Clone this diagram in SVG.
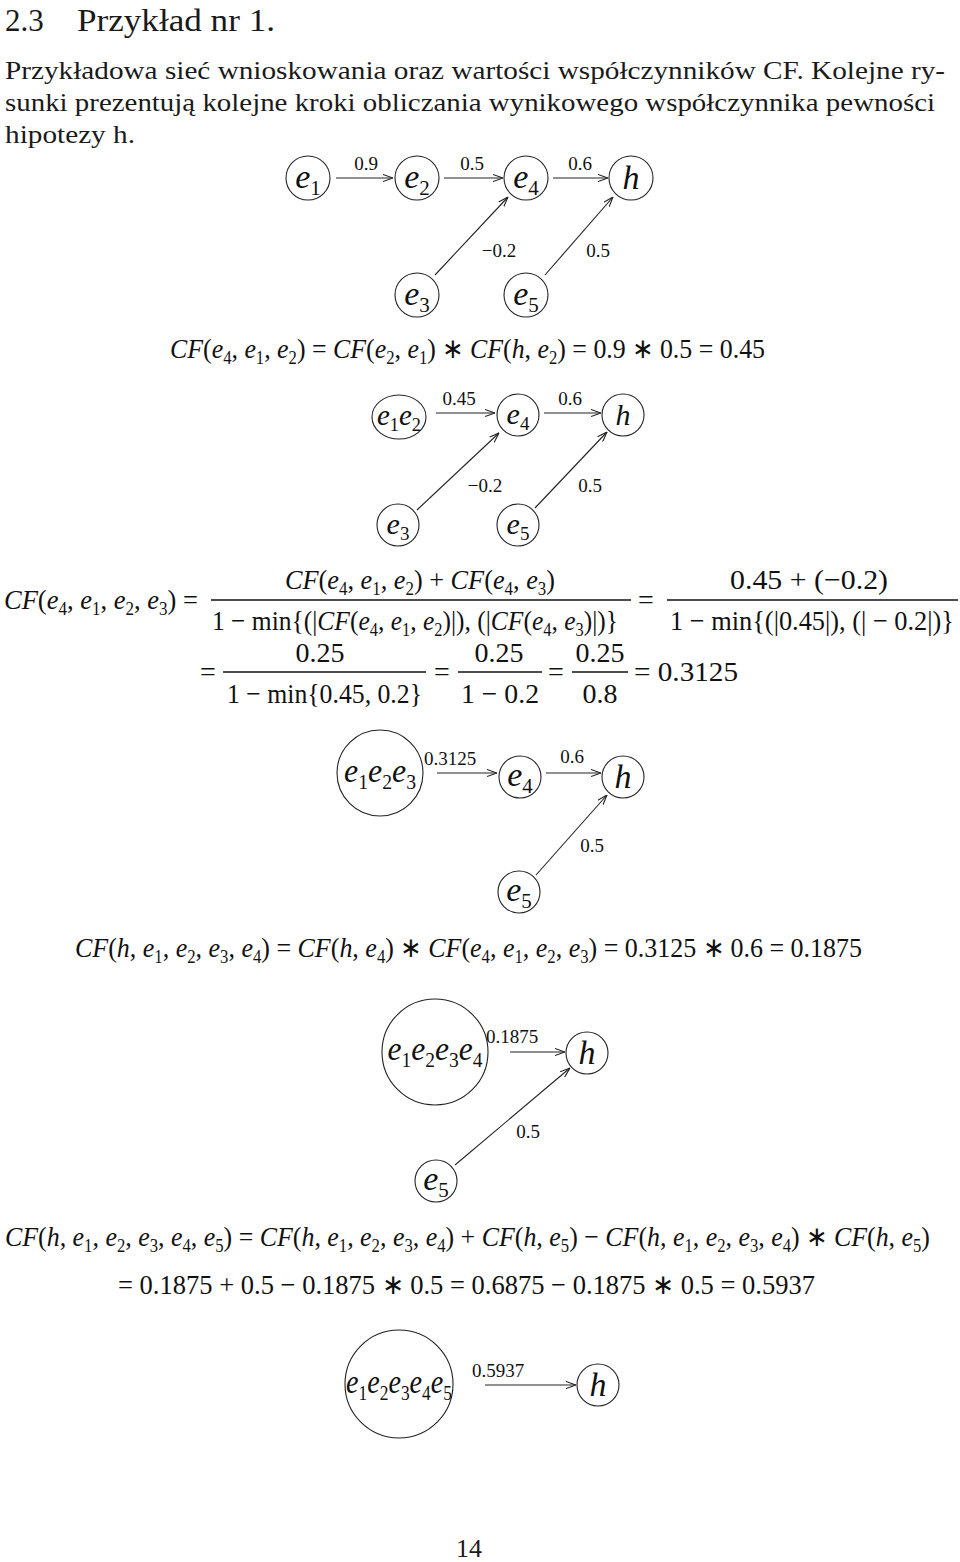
<svg xmlns="http://www.w3.org/2000/svg" width="960" height="1562" viewBox="0 0 960 1562">
<style>
.t{font-family:"Liberation Serif",serif;fill:#1a1a1a}
.hd{font-size:31px}
.p{font-size:26px}
.f{font-family:"Liberation Serif",serif;font-size:28px;fill:#111}
.i{font-style:italic}
.s{font-size:18px}
.nd{fill:none;stroke:#222;stroke-width:1.1}
.n{font-family:"Liberation Serif",serif;font-size:34px;text-anchor:middle;fill:#111}
.ns{font-size:21px}
.lb{font-family:"Liberation Serif",serif;font-size:19px;text-anchor:middle;fill:#111}
.cn{fill:none;stroke:#222;stroke-width:1.1;marker-end:url(#ar)}
.bar{stroke:#111;stroke-width:1.3}
.m{text-anchor:middle}
</style>
<defs>
<marker id="ar" viewBox="0 0 10 8" refX="10" refY="4" markerWidth="10" markerHeight="8" markerUnits="userSpaceOnUse" orient="auto"><path d="M0,0.5 L10,4 L0,7.5" fill="none" stroke="#222" stroke-width="1.1"/></marker>
</defs>
<rect width="960" height="1562" fill="#fff"/>

<g id="header" font-family="Liberation Serif, serif">
<text class="t hd" x="5" y="31">2.3</text>
<text class="t hd" x="77" y="31" textLength="198" lengthAdjust="spacingAndGlyphs">Przykład nr 1.</text>
<text class="t p" x="5" y="79" textLength="940" lengthAdjust="spacingAndGlyphs">Przykładowa sieć wnioskowania oraz wartości współczynników CF. Kolejne ry-</text>
<text class="t p" x="5" y="111" textLength="930" lengthAdjust="spacingAndGlyphs">sunki prezentują kolejne kroki obliczania wynikowego współczynnika pewności</text>
<text class="t p" x="5" y="143" textLength="130" lengthAdjust="spacingAndGlyphs">hipotezy h.</text>
</g>

<!-- Diagram 1 -->
<g id="d1">
<g id="d1-connectors">
<line class="cn" x1="336" y1="178" x2="393" y2="178"/>
<line class="cn" x1="444" y1="178" x2="503" y2="178"/>
<line class="cn" x1="553" y1="178" x2="608" y2="178"/>
<line class="cn" x1="435" y1="275" x2="508" y2="197"/>
<line class="cn" x1="545" y1="275" x2="613" y2="197"/>
<text class="lb" x="366" y="170">0.9</text>
<text class="lb" x="472" y="170">0.5</text>
<text class="lb" x="580" y="170">0.6</text>
<text class="lb" x="499" y="257">−0.2</text>
<text class="lb" x="598" y="257">0.5</text>
</g>
<g id="d1-e1"><circle class="nd" cx="308" cy="178" r="22"/><text class="n" x="308" y="188"><tspan class="i">e</tspan><tspan class="ns" dy="7">1</tspan></text></g>
<g id="d1-e2"><circle class="nd" cx="417" cy="178" r="22"/><text class="n" x="417" y="188"><tspan class="i">e</tspan><tspan class="ns" dy="7">2</tspan></text></g>
<g id="d1-e4"><circle class="nd" cx="526" cy="178" r="22"/><text class="n" x="526" y="188"><tspan class="i">e</tspan><tspan class="ns" dy="7">4</tspan></text></g>
<g id="d1-h"><circle class="nd" cx="631" cy="178" r="22"/><text class="n i" x="631" y="189">h</text></g>
<g id="d1-e3"><circle class="nd" cx="417" cy="295" r="22"/><text class="n" x="417" y="305"><tspan class="i">e</tspan><tspan class="ns" dy="7">3</tspan></text></g>
<g id="d1-e5"><circle class="nd" cx="526" cy="295" r="22"/><text class="n" x="526" y="305"><tspan class="i">e</tspan><tspan class="ns" dy="7">5</tspan></text></g>
</g>

<g id="formula1">
<text class="f" x="170" y="358" textLength="595" lengthAdjust="spacingAndGlyphs"><tspan class="i">CF</tspan>(<tspan class="i">e</tspan><tspan class="s" dy="6">4</tspan><tspan dy="-6">, </tspan><tspan class="i">e</tspan><tspan class="s" dy="6">1</tspan><tspan dy="-6">, </tspan><tspan class="i">e</tspan><tspan class="s" dy="6">2</tspan><tspan dy="-6">) = </tspan><tspan class="i">CF</tspan>(<tspan class="i">e</tspan><tspan class="s" dy="6">2</tspan><tspan dy="-6">, </tspan><tspan class="i">e</tspan><tspan class="s" dy="6">1</tspan><tspan dy="-6">) ∗ </tspan><tspan class="i">CF</tspan>(<tspan class="i">h</tspan>, <tspan class="i">e</tspan><tspan class="s" dy="6">2</tspan><tspan dy="-6">) = 0.9 ∗ 0.5 = 0.45</tspan></text>
</g>

<!-- Diagram 2 -->
<g id="d2">
<g id="d2-connectors">
<line class="cn" x1="436" y1="413" x2="495" y2="413"/>
<line class="cn" x1="544" y1="413" x2="601" y2="413"/>
<line class="cn" x1="417" y1="510" x2="499" y2="433"/>
<line class="cn" x1="535" y1="508" x2="607" y2="432"/>
<text class="lb" x="459" y="405">0.45</text>
<text class="lb" x="570" y="405">0.6</text>
<text class="lb" x="485" y="492">−0.2</text>
<text class="lb" x="590" y="492">0.5</text>
</g>
<g id="d2-e1e2"><ellipse class="nd" cx="399" cy="417" rx="27" ry="22"/><text class="n" x="399" y="425" style="font-size:30px" textLength="44" lengthAdjust="spacingAndGlyphs"><tspan class="i">e</tspan><tspan class="ns" dy="6" style="font-size:19px">1</tspan><tspan class="i" dy="-6">e</tspan><tspan class="ns" dy="6" style="font-size:19px">2</tspan></text></g>
<g id="d2-e4"><circle class="nd" cx="518" cy="415" r="21"/><text class="n" x="518" y="424" style="font-size:30px"><tspan class="i">e</tspan><tspan class="ns" dy="6" style="font-size:19px">4</tspan></text></g>
<g id="d2-h"><circle class="nd" cx="623" cy="415" r="21"/><text class="n i" x="623" y="425" style="font-size:30px">h</text></g>
<g id="d2-e3"><circle class="nd" cx="398" cy="525" r="21"/><text class="n" x="398" y="534" style="font-size:30px"><tspan class="i">e</tspan><tspan class="ns" dy="6" style="font-size:19px">3</tspan></text></g>
<g id="d2-e5"><circle class="nd" cx="518" cy="525" r="21"/><text class="n" x="518" y="534" style="font-size:30px"><tspan class="i">e</tspan><tspan class="ns" dy="6" style="font-size:19px">5</tspan></text></g>
</g>

<g id="formula2">
<text class="f" x="4" y="609" textLength="194" lengthAdjust="spacingAndGlyphs"><tspan class="i">CF</tspan>(<tspan class="i">e</tspan><tspan class="s" dy="6">4</tspan><tspan dy="-6">, </tspan><tspan class="i">e</tspan><tspan class="s" dy="6">1</tspan><tspan dy="-6">, </tspan><tspan class="i">e</tspan><tspan class="s" dy="6">2</tspan><tspan dy="-6">, </tspan><tspan class="i">e</tspan><tspan class="s" dy="6">3</tspan><tspan dy="-6">) =</tspan></text>
<text class="f" x="285" y="589" textLength="270" lengthAdjust="spacingAndGlyphs"><tspan class="i">CF</tspan>(<tspan class="i">e</tspan><tspan class="s" dy="6">4</tspan><tspan dy="-6">, </tspan><tspan class="i">e</tspan><tspan class="s" dy="6">1</tspan><tspan dy="-6">, </tspan><tspan class="i">e</tspan><tspan class="s" dy="6">2</tspan><tspan dy="-6">) + </tspan><tspan class="i">CF</tspan>(<tspan class="i">e</tspan><tspan class="s" dy="6">4</tspan><tspan dy="-6">, </tspan><tspan class="i">e</tspan><tspan class="s" dy="6">3</tspan><tspan dy="-6">)</tspan></text>
<line class="bar" x1="211" y1="600" x2="631" y2="600"/>
<text class="f" x="212" y="630" textLength="406" lengthAdjust="spacingAndGlyphs">1 − min{(|<tspan class="i">CF</tspan>(<tspan class="i">e</tspan><tspan class="s" dy="6">4</tspan><tspan dy="-6">, </tspan><tspan class="i">e</tspan><tspan class="s" dy="6">1</tspan><tspan dy="-6">, </tspan><tspan class="i">e</tspan><tspan class="s" dy="6">2</tspan><tspan dy="-6">)|), (|</tspan><tspan class="i">CF</tspan>(<tspan class="i">e</tspan><tspan class="s" dy="6">4</tspan><tspan dy="-6">, </tspan><tspan class="i">e</tspan><tspan class="s" dy="6">3</tspan><tspan dy="-6">)|)}</tspan></text>
<text class="f m" x="646" y="609">=</text>
<text class="f" x="730" y="589" textLength="158" lengthAdjust="spacingAndGlyphs">0.45 + (−0.2)</text>
<line class="bar" x1="667" y1="600" x2="958" y2="600"/>
<text class="f" x="670" y="630" textLength="284" lengthAdjust="spacingAndGlyphs">1 − min{(|0.45|), (| − 0.2|)}</text>

<text class="f m" x="208" y="681">=</text>
<text class="f m" x="320" y="662">0.25</text>
<line class="bar" x1="223" y1="672" x2="426" y2="672"/>
<text class="f" x="227" y="703" textLength="195" lengthAdjust="spacingAndGlyphs">1 − min{0.45, 0.2}</text>
<text class="f m" x="442" y="681">=</text>
<text class="f m" x="499" y="662">0.25</text>
<line class="bar" x1="458" y1="672" x2="542" y2="672"/>
<text class="f" x="461" y="703" textLength="78" lengthAdjust="spacingAndGlyphs">1 − 0.2</text>
<text class="f m" x="556" y="681">=</text>
<text class="f m" x="600" y="662">0.25</text>
<line class="bar" x1="572" y1="672" x2="628" y2="672"/>
<text class="f m" x="600" y="703">0.8</text>
<text class="f" x="634" y="681" textLength="104" lengthAdjust="spacingAndGlyphs">= 0.3125</text>
</g>

<!-- Diagram 3 -->
<g id="d3">
<g id="d3-connectors">
<line class="cn" x1="437" y1="773" x2="497" y2="773"/>
<line class="cn" x1="546" y1="773" x2="601" y2="773"/>
<line class="cn" x1="536" y1="875" x2="607" y2="795"/>
<text class="lb" x="450" y="765">0.3125</text>
<text class="lb" x="572" y="763">0.6</text>
<text class="lb" x="592" y="852">0.5</text>
</g>
<g id="d3-e1e2e3"><circle class="nd" cx="380" cy="773" r="43"/><text class="n" x="380" y="782" textLength="72" lengthAdjust="spacingAndGlyphs"><tspan class="i">e</tspan><tspan class="ns" dy="7">1</tspan><tspan class="i" dy="-7">e</tspan><tspan class="ns" dy="7">2</tspan><tspan class="i" dy="-7">e</tspan><tspan class="ns" dy="7">3</tspan></text></g>
<g id="d3-e4"><circle class="nd" cx="520" cy="777" r="21"/><text class="n" x="520" y="786"><tspan class="i">e</tspan><tspan class="ns" dy="7">4</tspan></text></g>
<g id="d3-h"><circle class="nd" cx="623" cy="777" r="21"/><text class="n i" x="623" y="788">h</text></g>
<g id="d3-e5"><circle class="nd" cx="519" cy="892" r="21"/><text class="n" x="519" y="901"><tspan class="i">e</tspan><tspan class="ns" dy="7">5</tspan></text></g>
</g>

<g id="formula3">
<text class="f" x="75" y="957" textLength="787" lengthAdjust="spacingAndGlyphs"><tspan class="i">CF</tspan>(<tspan class="i">h</tspan>, <tspan class="i">e</tspan><tspan class="s" dy="6">1</tspan><tspan dy="-6">, </tspan><tspan class="i">e</tspan><tspan class="s" dy="6">2</tspan><tspan dy="-6">, </tspan><tspan class="i">e</tspan><tspan class="s" dy="6">3</tspan><tspan dy="-6">, </tspan><tspan class="i">e</tspan><tspan class="s" dy="6">4</tspan><tspan dy="-6">) = </tspan><tspan class="i">CF</tspan>(<tspan class="i">h</tspan>, <tspan class="i">e</tspan><tspan class="s" dy="6">4</tspan><tspan dy="-6">) ∗ </tspan><tspan class="i">CF</tspan>(<tspan class="i">e</tspan><tspan class="s" dy="6">4</tspan><tspan dy="-6">, </tspan><tspan class="i">e</tspan><tspan class="s" dy="6">1</tspan><tspan dy="-6">, </tspan><tspan class="i">e</tspan><tspan class="s" dy="6">2</tspan><tspan dy="-6">, </tspan><tspan class="i">e</tspan><tspan class="s" dy="6">3</tspan><tspan dy="-6">) = 0.3125 ∗ 0.6 = 0.1875</tspan></text>
</g>

<!-- Diagram 4 -->
<g id="d4">
<g id="d4-connectors">
<line class="cn" x1="510" y1="1052" x2="565" y2="1052"/>
<line class="cn" x1="455" y1="1165" x2="570" y2="1068"/>
<text class="lb" x="512" y="1043">0.1875</text>
<text class="lb" x="528" y="1138">0.5</text>
</g>
<g id="d4-e1e2e3e4"><circle class="nd" cx="435" cy="1052" r="53"/><text class="n" x="435" y="1060" textLength="95" lengthAdjust="spacingAndGlyphs"><tspan class="i">e</tspan><tspan class="ns" dy="7">1</tspan><tspan class="i" dy="-7">e</tspan><tspan class="ns" dy="7">2</tspan><tspan class="i" dy="-7">e</tspan><tspan class="ns" dy="7">3</tspan><tspan class="i" dy="-7">e</tspan><tspan class="ns" dy="7">4</tspan></text></g>
<g id="d4-h"><circle class="nd" cx="587" cy="1053" r="21"/><text class="n i" x="587" y="1064">h</text></g>
<g id="d4-e5"><circle class="nd" cx="436" cy="1181" r="21"/><text class="n" x="436" y="1190"><tspan class="i">e</tspan><tspan class="ns" dy="7">5</tspan></text></g>
</g>

<g id="formula4">
<text class="f" x="5" y="1246" textLength="925" lengthAdjust="spacingAndGlyphs"><tspan class="i">CF</tspan>(<tspan class="i">h</tspan>, <tspan class="i">e</tspan><tspan class="s" dy="6">1</tspan><tspan dy="-6">, </tspan><tspan class="i">e</tspan><tspan class="s" dy="6">2</tspan><tspan dy="-6">, </tspan><tspan class="i">e</tspan><tspan class="s" dy="6">3</tspan><tspan dy="-6">, </tspan><tspan class="i">e</tspan><tspan class="s" dy="6">4</tspan><tspan dy="-6">, </tspan><tspan class="i">e</tspan><tspan class="s" dy="6">5</tspan><tspan dy="-6">) = </tspan><tspan class="i">CF</tspan>(<tspan class="i">h</tspan>, <tspan class="i">e</tspan><tspan class="s" dy="6">1</tspan><tspan dy="-6">, </tspan><tspan class="i">e</tspan><tspan class="s" dy="6">2</tspan><tspan dy="-6">, </tspan><tspan class="i">e</tspan><tspan class="s" dy="6">3</tspan><tspan dy="-6">, </tspan><tspan class="i">e</tspan><tspan class="s" dy="6">4</tspan><tspan dy="-6">) + </tspan><tspan class="i">CF</tspan>(<tspan class="i">h</tspan>, <tspan class="i">e</tspan><tspan class="s" dy="6">5</tspan><tspan dy="-6">) − </tspan><tspan class="i">CF</tspan>(<tspan class="i">h</tspan>, <tspan class="i">e</tspan><tspan class="s" dy="6">1</tspan><tspan dy="-6">, </tspan><tspan class="i">e</tspan><tspan class="s" dy="6">2</tspan><tspan dy="-6">, </tspan><tspan class="i">e</tspan><tspan class="s" dy="6">3</tspan><tspan dy="-6">, </tspan><tspan class="i">e</tspan><tspan class="s" dy="6">4</tspan><tspan dy="-6">) ∗ </tspan><tspan class="i">CF</tspan>(<tspan class="i">h</tspan>, <tspan class="i">e</tspan><tspan class="s" dy="6">5</tspan><tspan dy="-6">)</tspan></text>
<text class="f" x="118" y="1294" textLength="697" lengthAdjust="spacingAndGlyphs">= 0.1875 + 0.5 − 0.1875 ∗ 0.5 = 0.6875 − 0.1875 ∗ 0.5 = 0.5937</text>
</g>

<!-- Diagram 5 -->
<g id="d5">
<g id="d5-connectors">
<line class="cn" x1="485" y1="1385" x2="576" y2="1385"/>
<text class="lb" x="498" y="1377">0.5937</text>
</g>
<g id="d5-e1e2e3e4e5"><circle class="nd" cx="399" cy="1384" r="54"/><text class="n" x="399" y="1393" textLength="106" lengthAdjust="spacingAndGlyphs"><tspan class="i">e</tspan><tspan class="ns" dy="7">1</tspan><tspan class="i" dy="-7">e</tspan><tspan class="ns" dy="7">2</tspan><tspan class="i" dy="-7">e</tspan><tspan class="ns" dy="7">3</tspan><tspan class="i" dy="-7">e</tspan><tspan class="ns" dy="7">4</tspan><tspan class="i" dy="-7">e</tspan><tspan class="ns" dy="7">5</tspan></text></g>
<g id="d5-h"><circle class="nd" cx="598" cy="1385" r="21"/><text class="n i" x="598" y="1396">h</text></g>
</g>

<text class="t m" x="469" y="1557" style="font-size:26px">14</text>
</svg>
